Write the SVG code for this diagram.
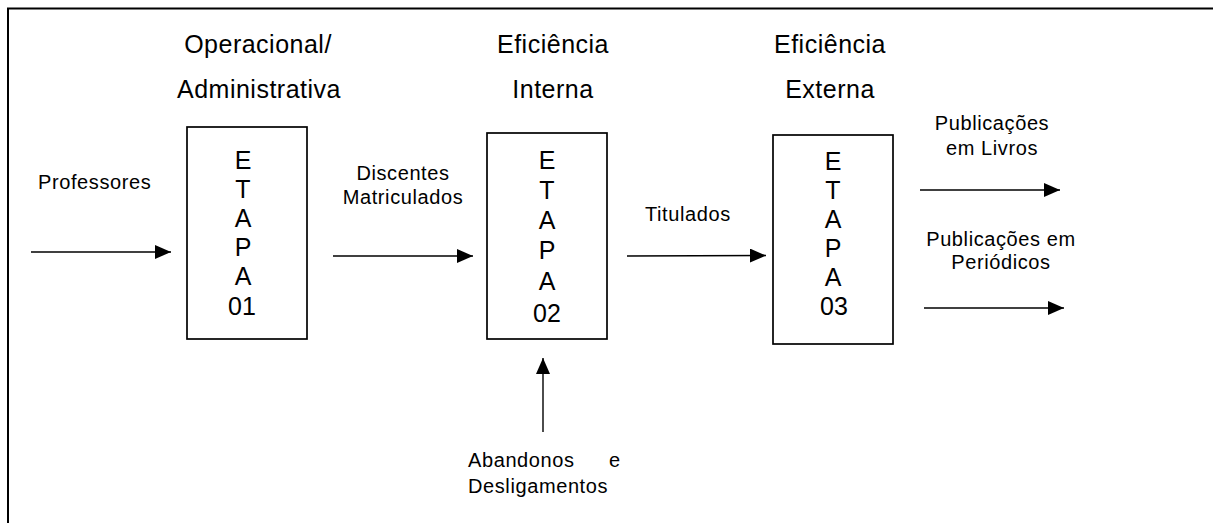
<svg xmlns="http://www.w3.org/2000/svg" width="1213" height="523" viewBox="0 0 1213 523">
<style>
text{font-family:"Liberation Sans",Arial,sans-serif;fill:#000}
.h{font-size:25px;letter-spacing:0.5px;text-anchor:middle}
.b{font-size:25px;text-anchor:middle}
.s{font-size:20px;letter-spacing:0.6px}
.sm{font-size:20px;letter-spacing:0.6px;text-anchor:middle}
.box{fill:#fff;stroke:#000;stroke-width:1.7}
.c{stroke:#000;stroke-width:1.4;fill:none;marker-end:url(#ah)}
</style>
<defs>
<marker id="ah" markerUnits="userSpaceOnUse" markerWidth="17" markerHeight="15" refX="16" refY="7" orient="auto">
<path d="M0,0 L16,7 L0,14 z" fill="#000"/>
</marker>
</defs>
<rect width="1213" height="523" fill="#fff"/>
<path d="M8,530 V8.5 H1220" fill="none" stroke="#000" stroke-width="2"/>

<g id="header1">
<text class="h" x="258" y="53">Operacional/</text>
<text class="h" x="259" y="98">Administrativa</text>
</g>
<g id="header2">
<text class="h" x="553" y="53">Eficiência</text>
<text class="h" x="553" y="98">Interna</text>
</g>
<g id="header3">
<text class="h" x="830" y="53">Eficiência</text>
<text class="h" x="830" y="98">Externa</text>
</g>

<g id="etapa01">
<rect class="box" x="187" y="127" width="120" height="212"/>
<text class="b" x="243" y="169">E</text>
<text class="b" x="243" y="198">T</text>
<text class="b" x="243" y="227">A</text>
<text class="b" x="243" y="256">P</text>
<text class="b" x="243" y="285">A</text>
<text class="b" x="242" y="315">01</text>
</g>
<g id="etapa02">
<rect class="box" x="487" y="133" width="120" height="206"/>
<text class="b" x="547" y="169">E</text>
<text class="b" x="547" y="199">T</text>
<text class="b" x="547" y="229">A</text>
<text class="b" x="547" y="259">P</text>
<text class="b" x="547" y="290">A</text>
<text class="b" x="547" y="322">02</text>
</g>
<g id="etapa03">
<rect class="box" x="773" y="135" width="120" height="209"/>
<text class="b" x="833" y="170">E</text>
<text class="b" x="833" y="199">T</text>
<text class="b" x="833" y="228">A</text>
<text class="b" x="833" y="257">P</text>
<text class="b" x="833" y="286">A</text>
<text class="b" x="834" y="315">03</text>
</g>

<g id="labels">
<text class="s" x="38" y="189">Professores</text>
<text class="sm" x="403" y="180">Discentes</text>
<text class="sm" x="403" y="204">Matriculados</text>
<text class="s" x="645" y="221">Titulados</text>
<text class="sm" x="992" y="130">Publicações</text>
<text class="sm" x="992" y="155">em Livros</text>
<text class="sm" x="1001" y="246">Publicações em</text>
<text class="sm" x="1001" y="269">Periódicos</text>
<text class="s" x="468" y="467">Abandonos</text>
<text class="s" x="609" y="467">e</text>
<text class="s" x="468" y="493">Desligamentos</text>
</g>

<g id="connectors">
<line class="c" x1="31" y1="252" x2="171" y2="252"/>
<line class="c" x1="333" y1="256" x2="473" y2="256"/>
<line class="c" x1="627" y1="256" x2="766" y2="255.5"/>
<line class="c" x1="920" y1="190" x2="1060" y2="190"/>
<line class="c" x1="924" y1="308" x2="1064" y2="308"/>
<line class="c" x1="543" y1="432" x2="543" y2="358"/>
</g>
</svg>
